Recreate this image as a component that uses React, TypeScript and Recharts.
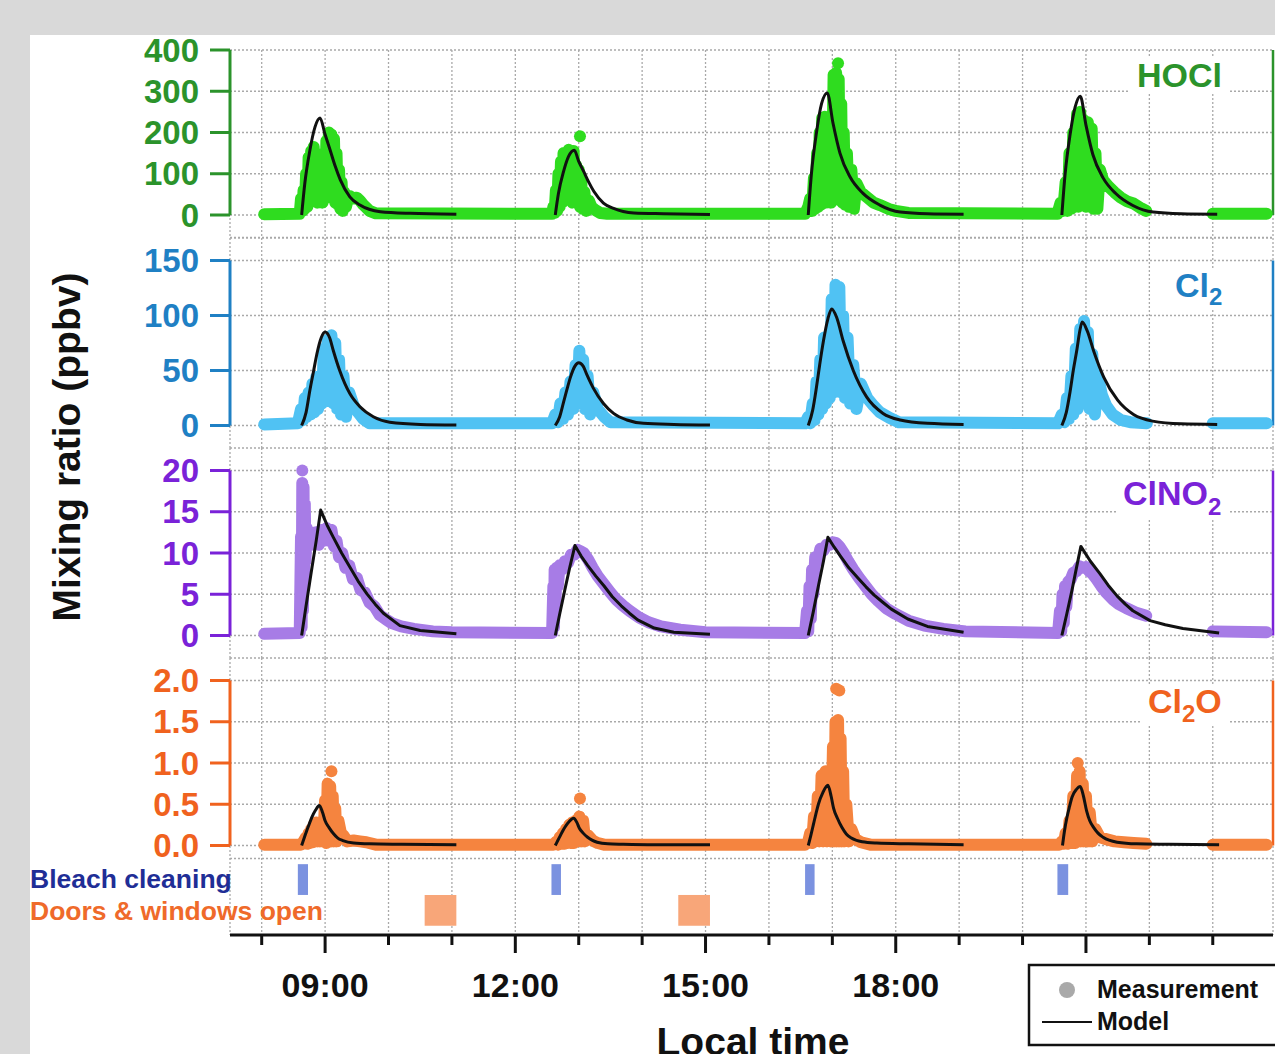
import { ComposedChart, Line, Scatter, XAxis, YAxis, CartesianGrid, ReferenceLine, ReferenceArea } from "recharts";

const FONT = '"Liberation Sans", Arial, Helvetica, sans-serif';
const X_MIN = 7.5;
const X_MAX = 23.95;

const hourTicks = [8, 9, 10, 11, 12, 13, 14, 15, 16, 17, 18, 19, 20, 21, 22, 23];
const majorHours = [9, 12, 15, 18, 21];
const labelHours = [9, 12, 15, 18]; // 21:00 sits under the legend box

// events (local time, hours)
const bleachStart = [8.57, 12.57, 16.57, 20.55];
const bleachEnd = [8.73, 12.72, 16.72, 20.72];
const doorsStart = [10.57, 14.57];
const doorsEnd = [11.07, 15.07];

type Pt = [number, number | null];

// ---- HOCl ----
const hoclMeas: Pt[] = [
    [8.04, 2], [8.6, 3], [8.62, 40], [8.64, 10], [8.66, 60], [8.68, 15], [8.7, 100], [8.72, 20], [8.74, 140], [8.76, 30],
    [8.78, 155], [8.8, 40], [8.82, 165], [8.84, 50], [8.86, 150], [8.88, 30], [8.9, 120], [8.92, 40], [8.94, 95], [8.96, 30],
    [8.98, 130], [9, 40], [9.02, 180], [9.04, 50], [9.06, 200], [9.08, 45], [9.1, 195], [9.12, 40], [9.14, 185], [9.16, 30],
    [9.18, 150], [9.2, 25], [9.22, 110], [9.24, 15], [9.26, 80], [9.28, 10], [9.3, 55], [9.33, 20], [9.36, 40], [9.4, 45],
    [9.45, 40], [9.5, 42], [9.55, 35], [9.6, 25], [9.65, 18], [9.7, 10], [9.8, 4],
    [12.58, 3], [12.6, 20], [12.62, 5], [12.64, 60], [12.66, 10], [12.68, 100], [12.7, 20], [12.72, 130], [12.74, 30], [12.76, 150],
    [12.78, 40], [12.8, 145], [12.82, 50], [12.84, 158], [12.86, 40], [12.88, 140], [12.9, 30], [12.92, 155], [12.94, 40], [12.96, 120],
    [12.98, 30], [13, 110], [13.02, 20], [13.04, 80], [13.06, 15], [13.09, 55], [13.12, 10], [13.16, 35], [13.2, 20], [13.26, 12],
    [13.34, 5], [13.45, 3],
    [16.57, 3], [16.62, 20], [16.65, 40], [16.68, 10], [16.71, 90], [16.73, 15], [16.76, 150], [16.78, 20], [16.8, 200], [16.82, 25],
    [16.84, 235], [16.86, 30], [16.88, 238], [16.9, 30], [16.92, 190], [16.94, 35], [16.96, 150], [16.98, 30], [17, 120], [17.02, 340],
    [17.04, 40], [17.06, 345], [17.08, 40], [17.1, 330], [17.12, 35], [17.14, 270], [17.16, 30], [17.18, 200], [17.2, 25], [17.23, 150],
    [17.26, 20], [17.3, 110], [17.34, 15], [17.38, 77], [17.45, 55], [17.54, 44], [17.65, 30], [17.75, 24], [17.9, 14], [18, 10], [18.2, 5],
    [20.55, 3], [20.6, 30], [20.64, 10], [20.68, 80], [20.71, 10], [20.74, 150], [20.77, 15], [20.8, 200], [20.83, 20], [20.86, 245],
    [20.88, 20], [20.91, 250], [20.94, 25], [20.97, 230], [21, 20], [21.03, 225], [21.06, 20], [21.09, 210], [21.12, 15], [21.15, 150],
    [21.18, 15], [21.22, 110], [21.27, 85], [21.35, 70], [21.45, 55], [21.55, 42], [21.65, 33], [21.75, 28], [21.85, 18], [21.95, 10],
    [22.5, null], [23, 3], [23.85, 3],
];
const hoclModel: Pt[] = [
    [8.63, 0], [8.68, 77], [8.76, 157], [8.84, 213], [8.92, 235], [9, 195], [9.08, 157], [9.16, 118], [9.24, 85], [9.39, 44],
    [9.55, 24], [9.87, 8], [10.34, 4], [11.07, 2], [11.1, null],
    [12.63, 0], [12.68, 52], [12.76, 105], [12.84, 142], [12.93, 157], [13, 130], [13.08, 105], [13.16, 79], [13.24, 57], [13.39, 29],
    [13.55, 16], [13.87, 5], [14.34, 3], [15.07, 1], [15.1, null],
    [16.62, 0], [16.67, 100], [16.75, 200], [16.83, 270], [16.92, 296], [17.01, 223], [17.12, 150], [17.28, 92], [17.48, 53], [17.75, 24],
    [18.07, 7], [18.5, 3], [19.07, 2], [19.1, null],
    [20.62, 0], [20.67, 97], [20.75, 195], [20.83, 262], [20.91, 288], [21, 218], [21.11, 146], [21.27, 90], [21.47, 52], [21.74, 23],
    [22.06, 7], [22.5, 3], [23.07, 2],
];
const hoclOutliers: Pt[] = [[13.02, 191], [17.09, 368]];

// ---- Cl2 ----
const cl2Meas: Pt[] = [
    [8.04, 1], [8.57, 2], [8.62, 15], [8.65, 5], [8.68, 25], [8.71, 8], [8.74, 30], [8.77, 10], [8.8, 38], [8.83, 12],
    [8.86, 44], [8.89, 15], [8.92, 45], [8.95, 20], [8.98, 70], [9.01, 25], [9.04, 78], [9.07, 22], [9.1, 82], [9.13, 20],
    [9.16, 75], [9.19, 15], [9.22, 60], [9.25, 10], [9.29, 45], [9.33, 8], [9.38, 30], [9.45, 18], [9.52, 12], [9.6, 6], [9.7, 2],
    [12.58, 2], [12.63, 10], [12.67, 3], [12.71, 20], [12.75, 6], [12.79, 30], [12.83, 10], [12.87, 40], [12.91, 15], [12.95, 55],
    [12.98, 20], [13.01, 68], [13.04, 20], [13.07, 60], [13.1, 15], [13.14, 45], [13.18, 10], [13.23, 30], [13.3, 15], [13.4, 8], [13.5, 3],
    [16.57, 2], [16.62, 8], [16.65, 2], [16.69, 20], [16.72, 5], [16.75, 40], [16.78, 10], [16.81, 60], [16.84, 15], [16.87, 80],
    [16.9, 20], [16.93, 75], [16.96, 25], [16.99, 115], [17.02, 30], [17.05, 128], [17.08, 35], [17.11, 126], [17.14, 30], [17.17, 100],
    [17.2, 25], [17.24, 80], [17.28, 20], [17.33, 55], [17.38, 15], [17.45, 38], [17.55, 25], [17.65, 18], [17.75, 12], [17.9, 7], [18.05, 3],
    [20.56, 2], [20.62, 10], [20.66, 3], [20.7, 25], [20.73, 6], [20.77, 45], [20.8, 10], [20.84, 70], [20.87, 15], [20.91, 88],
    [20.94, 20], [20.97, 95], [21, 20], [21.03, 85], [21.06, 15], [21.1, 65], [21.14, 10], [21.19, 45], [21.25, 28], [21.32, 18],
    [21.42, 10], [21.55, 5], [21.7, 3], [21.96, 2],
    [22.5, null], [23, 2], [23.85, 2],
];
const cl2Model: Pt[] = [
    [8.63, 0], [8.7, 12], [8.76, 32], [8.82, 50], [8.87, 65], [8.94, 80], [9, 85], [9.07, 80], [9.13, 68], [9.23, 50],
    [9.39, 29], [9.55, 17], [9.76, 8], [10.02, 3], [10.5, 1], [11.07, 0.5], [11.1, null],
    [12.63, 0], [12.7, 8], [12.76, 21], [12.82, 34], [12.87, 44], [12.94, 54], [13, 57], [13.07, 54], [13.13, 46], [13.23, 34],
    [13.39, 20], [13.55, 11], [13.76, 5], [14.02, 2], [14.5, 1], [15.07, 0.5], [15.1, null],
    [16.62, 0], [16.69, 14], [16.75, 35], [16.8, 55], [16.86, 77], [16.93, 97], [16.99, 106], [17.07, 98], [17.17, 77], [17.33, 50],
    [17.54, 26], [17.8, 11], [18.07, 5], [18.5, 2], [19.07, 1], [19.1, null],
    [20.62, 0], [20.69, 12], [20.75, 31], [20.8, 50], [20.86, 70], [20.9, 85], [20.94, 94], [21.02, 86], [21.12, 68], [21.28, 44],
    [21.5, 23], [21.75, 10], [22.05, 4], [22.5, 1.5], [23.07, 1],
];
const cl2Outliers: Pt[] = [];

// ---- ClNO2 ----
const clno2Meas: Pt[] = [
    [8.04, 0.2], [8.6, 0.3], [8.62, 12], [8.63, 1], [8.64, 18.5], [8.65, 3], [8.66, 18], [8.67, 6], [8.68, 16], [8.69, 9],
    [8.71, 13], [8.74, 11], [8.78, 12.5], [8.82, 11], [8.86, 12.5], [8.9, 11], [8.94, 12.8], [8.98, 11.5], [9.02, 13], [9.06, 11.5],
    [9.1, 12.8], [9.14, 10.8], [9.18, 11.5], [9.22, 9.5], [9.27, 10], [9.32, 8.2], [9.38, 8.5], [9.44, 6.8], [9.5, 7], [9.56, 5.5],
    [9.63, 5.2], [9.7, 4], [9.78, 3.5], [9.86, 2.5], [9.95, 2], [10.05, 1.5], [10.2, 1.1], [10.4, 0.8], [10.7, 0.5], [11, 0.4],
    [12.58, 0.3], [12.6, 6], [12.61, 1], [12.62, 8], [12.63, 3], [12.65, 8.2], [12.67, 6], [12.7, 8.5], [12.74, 8], [12.78, 9],
    [12.83, 8.8], [12.88, 9.8], [12.93, 9.8], [12.98, 10.4], [13.03, 10.2], [13.08, 10], [13.15, 9.2], [13.22, 8.2], [13.3, 7.2], [13.4, 6.2],
    [13.5, 5.2], [13.6, 4.3], [13.7, 3.6], [13.8, 3], [13.95, 2.2], [14.1, 1.6], [14.3, 1.1], [14.6, 0.7], [15, 0.4],
    [16.57, 0.3], [16.6, 3], [16.62, 0.5], [16.64, 6], [16.66, 2], [16.68, 8], [16.7, 5], [16.73, 9.5], [16.77, 9], [16.81, 10.5],
    [16.86, 10.3], [16.91, 11], [16.96, 11], [17.01, 11.3], [17.06, 11.2], [17.11, 10.8], [17.18, 10], [17.25, 9], [17.33, 8], [17.42, 7],
    [17.52, 6], [17.62, 5], [17.72, 4.2], [17.85, 3.3], [18, 2.6], [18.2, 1.8], [18.45, 1.2], [18.75, 0.8], [19.1, 0.5],
    [20.56, 0.3], [20.59, 3], [20.61, 0.5], [20.63, 5], [20.65, 1.5], [20.67, 6], [20.69, 3.5], [20.72, 6.5], [20.76, 6.8], [20.8, 7.6],
    [20.85, 7.8], [20.9, 8.4], [20.95, 8.2], [21, 8.3], [21.05, 7.8], [21.1, 7.5], [21.17, 6.8], [21.24, 6], [21.32, 5.2], [21.42, 4.4],
    [21.52, 3.8], [21.64, 3.3], [21.78, 2.8], [21.95, 2.4],
    [22.5, null], [23, 0.5], [23.85, 0.4],
];
const clno2Model: Pt[] = [
    [8.63, 0], [8.7, 3.6], [8.78, 7.6], [8.86, 11.5], [8.93, 15.2], [9.03, 13.4], [9.13, 11.9], [9.26, 10], [9.39, 8.3], [9.52, 6.6],
    [9.66, 5.05], [9.79, 3.8], [9.92, 2.7], [10.18, 1.2], [10.5, 0.6], [11.07, 0.2], [11.1, null],
    [12.63, 0], [12.7, 2.6], [12.78, 5.5], [12.86, 8.3], [12.94, 10.9], [13.04, 9.6], [13.14, 8.5], [13.27, 7.2], [13.4, 6], [13.53, 4.7],
    [13.67, 3.6], [13.8, 2.7], [13.93, 1.9], [14.19, 0.9], [14.5, 0.4], [15.07, 0.15], [15.1, null],
    [16.62, 0], [16.7, 2.9], [16.78, 6], [16.86, 9], [16.93, 11.9], [17.03, 10.7], [17.13, 9.6], [17.26, 8.2], [17.4, 7], [17.53, 5.9],
    [17.66, 4.9], [17.8, 4], [17.93, 3.2], [18.19, 2], [18.5, 1.1], [19.07, 0.4], [19.1, null],
    [20.62, 0], [20.7, 2.7], [20.78, 5.5], [20.85, 8.2], [20.92, 10.8], [21.07, 9], [21.22, 7.5], [21.35, 6.1], [21.49, 4.8], [21.62, 3.8],
    [21.74, 3], [22.01, 1.8], [22.25, 1.3], [22.53, 0.85], [23.1, 0.3],
];
const clno2Outliers: Pt[] = [[8.64, 20]];

// ---- Cl2O ----
const cl2oMeas: Pt[] = [
    [8.04, 0.01], [8.62, 0.01], [8.66, 0.05], [8.7, 0.1], [8.72, 0.02], [8.74, 0.15], [8.76, 0.03], [8.78, 0.2], [8.8, 0.04], [8.82, 0.25],
    [8.84, 0.05], [8.86, 0.28], [8.88, 0.05], [8.9, 0.22], [8.92, 0.05], [8.94, 0.28], [8.97, 0.05], [9, 0.55], [9.02, 0.03], [9.04, 0.75],
    [9.06, 0.05], [9.08, 0.72], [9.1, 0.05], [9.12, 0.6], [9.14, 0.05], [9.16, 0.45], [9.18, 0.05], [9.21, 0.3], [9.25, 0.15], [9.29, 0.12],
    [9.35, 0.05], [9.45, 0.06], [9.55, 0.05], [9.65, 0.04], [9.8, 0.01],
    [12.6, 0.01], [12.65, 0.05], [12.68, 0.01], [12.7, 0.1], [12.72, 0.02], [12.75, 0.15], [12.77, 0.02], [12.8, 0.2], [12.82, 0.03], [12.85, 0.25],
    [12.87, 0.03], [12.9, 0.28], [12.92, 0.03], [12.95, 0.3], [12.98, 0.05], [13.01, 0.35], [13.04, 0.05], [13.07, 0.3], [13.1, 0.05], [13.15, 0.12],
    [13.22, 0.06], [13.3, 0.03], [13.4, 0.01],
    [16.57, 0.01], [16.62, 0.05], [16.65, 0.15], [16.68, 0.03], [16.71, 0.35], [16.74, 0.05], [16.77, 0.6], [16.8, 0.05], [16.83, 0.85], [16.86, 0.05],
    [16.89, 0.9], [16.92, 0.05], [16.95, 0.85], [16.98, 0.05], [17.01, 1.2], [17.03, 0.05], [17.05, 1.5], [17.07, 0.05], [17.09, 1.52], [17.11, 0.05],
    [17.13, 1.3], [17.15, 0.05], [17.17, 0.9], [17.19, 0.05], [17.22, 0.5], [17.26, 0.05], [17.3, 0.2], [17.36, 0.08], [17.45, 0.04], [17.6, 0.01],
    [20.58, 0.01], [20.62, 0.05], [20.65, 0.02], [20.68, 0.15], [20.71, 0.02], [20.74, 0.3], [20.77, 0.03], [20.8, 0.6], [20.83, 0.03], [20.86, 0.85],
    [20.88, 0.05], [20.9, 0.9], [20.92, 0.05], [20.95, 0.75], [20.97, 0.05], [21, 0.6], [21.03, 0.05], [21.06, 0.4], [21.1, 0.05], [21.15, 0.2],
    [21.22, 0.1], [21.3, 0.08], [21.45, 0.05], [21.6, 0.04], [21.75, 0.03], [21.95, 0.02],
    [22.5, null], [23, 0.01], [23.85, 0.01],
];
const cl2oModel: Pt[] = [
    [8.63, 0], [8.67, 0.09], [8.71, 0.18], [8.75, 0.26], [8.79, 0.34], [8.85, 0.43], [8.91, 0.485], [8.96, 0.4], [9, 0.3], [9.06, 0.22],
    [9.13, 0.145], [9.2, 0.09], [9.28, 0.06], [9.45, 0.03], [9.7, 0.02], [10.2, 0.015], [11.07, 0.01], [11.1, null],
    [12.63, 0], [12.67, 0.06], [12.71, 0.12], [12.75, 0.18], [12.79, 0.23], [12.85, 0.29], [12.92, 0.33], [12.97, 0.28], [13.01, 0.21], [13.07, 0.15],
    [13.14, 0.1], [13.21, 0.065], [13.29, 0.04], [13.46, 0.02], [13.7, 0.015], [14.2, 0.01], [15.07, 0.01], [15.1, null],
    [16.62, 0], [16.66, 0.12], [16.7, 0.25], [16.74, 0.38], [16.78, 0.5], [16.85, 0.64], [16.93, 0.73], [16.98, 0.6], [17.02, 0.45], [17.08, 0.33],
    [17.15, 0.22], [17.22, 0.14], [17.3, 0.09], [17.47, 0.045], [17.7, 0.03], [18.2, 0.02], [19.07, 0.01], [19.1, null],
    [20.63, 0], [20.66, 0.17], [20.7, 0.34], [20.74, 0.47], [20.78, 0.585], [20.85, 0.68], [20.91, 0.715], [20.96, 0.6], [21.01, 0.42], [21.06, 0.3],
    [21.12, 0.22], [21.19, 0.15], [21.27, 0.1], [21.49, 0.04], [21.8, 0.02], [22.3, 0.015], [23.1, 0.01],
];
const cl2oOutliers: Pt[] = [[9.1, 0.9], [13.02, 0.57], [17.06, 1.9], [17.11, 1.88], [20.87, 1.0]];

const rows = (pts: Pt[]) => pts.map(([t, v]) => ({ t, v }));

type PanelDef = {
    key: string;
    axisColor: string;
    dotColor: string;
    max: number;
    ticks: number[];
    digits: number;
    yTop: number;   // pixel of max tick
    yZero: number;  // pixel of zero tick
    top: number;    // plot area top
    bottom: number; // plot area bottom
    mTop: number;
    mBottom: number;
    curve: "monotone" | "linear";
    meas: Pt[];
    model: Pt[];
    outliers: Pt[];
};

const panels: PanelDef[] = [
    { key: "hocl", axisColor: "#2b932b", dotColor: "#2fdc1f", max: 400, ticks: [0, 100, 200, 300, 400], digits: 0, yTop: 50, yZero: 215, top: 50, bottom: 237.5, mTop: 26, mBottom: 0, curve: "monotone", meas: hoclMeas, model: hoclModel, outliers: hoclOutliers },
    { key: "cl2", axisColor: "#1f80c4", dotColor: "#50c2f3", max: 150, ticks: [0, 50, 100, 150], digits: 0, yTop: 260, yZero: 425, top: 237.5, bottom: 447.5, mTop: 0, mBottom: 0, curve: "monotone", meas: cl2Meas, model: cl2Model, outliers: cl2Outliers },
    { key: "clno2", axisColor: "#7a22d8", dotColor: "#a77ce6", max: 20, ticks: [0, 5, 10, 15, 20], digits: 0, yTop: 470, yZero: 635, top: 447.5, bottom: 657.5, mTop: 0, mBottom: 0, curve: "linear", meas: clno2Meas, model: clno2Model, outliers: clno2Outliers },
    { key: "cl2o", axisColor: "#f0621e", dotColor: "#f5843f", max: 2, ticks: [0, 0.5, 1, 1.5, 2], digits: 1, yTop: 680, yZero: 845, top: 657.5, bottom: 858, mTop: 0, mBottom: 14, curve: "monotone", meas: cl2oMeas, model: cl2oModel, outliers: cl2oOutliers },
];

function Panel({ p }: { p: PanelDef }) {
    const scale = (p.yZero - p.yTop) / p.max;
    const domain = [-(p.bottom - p.yZero) / scale, p.max + (p.yTop - p.top) / scale];
    return (
        <div style={{ position: "absolute", left: 0, top: p.top - p.mTop }}>
            <ComposedChart
                width={1275}
                height={p.bottom - p.top + p.mTop + p.mBottom}
                margin={{ top: p.mTop, right: 2, bottom: p.mBottom, left: 0 }}
            >
                <CartesianGrid stroke="#a9a9a9" strokeDasharray="2 2" strokeWidth={1.3} />
                <XAxis type="number" dataKey="t" domain={[X_MIN, X_MAX]} ticks={hourTicks} hide allowDataOverflow />
                <YAxis
                    type="number"
                    dataKey="v"
                    domain={domain}
                    ticks={p.ticks}
                    interval={0}
                    width={230}
                    allowDataOverflow
                    axisLine={false}
                    tickSize={20}
                    tickMargin={11}
                    tickLine={{ stroke: p.axisColor, strokeWidth: 3 }}
                    tick={{ fill: p.axisColor, fontSize: 33, fontWeight: 700, fontFamily: FONT }}
                    tickFormatter={(v: number) => v.toFixed(p.digits)}
                />
                <ReferenceLine segment={[{ x: X_MIN, y: 0 }, { x: X_MIN, y: p.max }]} stroke={p.axisColor} strokeWidth={3} ifOverflow="visible" />
                <ReferenceLine segment={[{ x: X_MAX, y: 0 }, { x: X_MAX, y: p.max }]} stroke={p.axisColor} strokeWidth={2.5} ifOverflow="visible" />
                <Line
                    data={rows(p.meas)}
                    dataKey="v"
                    stroke={p.dotColor}
                    strokeWidth={12}
                    strokeLinecap="round"
                    strokeLinejoin="round"
                    dot={false}
                    activeDot={false}
                    isAnimationActive={false}
                />
                <Scatter
                    data={rows(p.outliers)}
                    dataKey="v"
                    isAnimationActive={false}
                    shape={(s: any) => <circle cx={s.cx} cy={s.cy} r={6} fill={p.dotColor} />}
                />
                <Line
                    data={rows(p.model)}
                    dataKey="v"
                    type={p.curve}
                    stroke="#111"
                    strokeWidth={3}
                    strokeLinejoin="round"
                    dot={false}
                    activeDot={false}
                    isAnimationActive={false}
                />
            </ComposedChart>
        </div>
    );
}

function HourTick(props: any) {
    const { x, y, payload } = props;
    const major = majorHours.includes(payload.value);
    const label = `${String(payload.value).padStart(2, "0")}:00`;
    return (
        <g>
            <line x1={x} x2={x} y1={y} y2={y + (major ? 18 : 10)} stroke="#111" strokeWidth={3} />
            {labelHours.includes(payload.value) && (
                <text x={x} y={y + 62} textAnchor="middle" fontSize={34} fontWeight={700} fontFamily={FONT} fill="#111">
                    {label}
                </text>
            )}
        </g>
    );
}

function EventChart() {
    return (
        <div style={{ position: "absolute", left: 0, top: 858 }}>
            <ComposedChart width={1275} height={196} margin={{ top: 0, right: 2, bottom: 0, left: 230 }}>
                <CartesianGrid horizontal={false} stroke="#a9a9a9" strokeDasharray="2 2" strokeWidth={1.3} />
                <XAxis
                    type="number"
                    dataKey="t"
                    domain={[X_MIN, X_MAX]}
                    ticks={hourTicks}
                    interval={0}
                    height={119}
                    allowDataOverflow
                    tickSize={0}
                    tickMargin={0}
                    tickLine={false}
                    axisLine={{ stroke: "#111", strokeWidth: 3 }}
                    tick={<HourTick />}
                />
                <YAxis type="number" domain={[0, 2.5]} hide allowDataOverflow />
                {bleachStart.map((s, i) => (
                    <ReferenceArea key={`b${i}`} x1={s} x2={bleachEnd[i]} y1={1.3} y2={2.3} fill="#7b92e0" fillOpacity={1} stroke="none" />
                ))}
                {doorsStart.map((s, i) => (
                    <ReferenceArea key={`d${i}`} x1={s} x2={doorsEnd[i]} y1={0.3} y2={1.3} fill="#f8a679" fillOpacity={1} stroke="none" />
                ))}
            </ComposedChart>
        </div>
    );
}

function Overlay() {
    const t = { fontFamily: FONT, fontWeight: 700 } as const;
    return (
        <svg width={1275} height={1054} style={{ position: "absolute", left: 0, top: 0, pointerEvents: "none" }}>
            <text {...t} fontSize={39} fill="#111" textAnchor="middle" transform="translate(80,447) rotate(-90)">
                Mixing ratio (ppbv)
            </text>

            <rect x={1130} y={58} width={98} height={35} fill="#fff" />
            <text {...t} x={1137} y={87} fontSize={34} fill="#2b932b">HOCl</text>

            <rect x={1170} y={270} width={58} height={38} fill="#fff" />
            <text {...t} x={1175} y={297} fontSize={34} fill="#1f80c4">
                Cl<tspan fontSize={24} dy={8}>2</tspan>
            </text>

            <rect x={1117} y={478} width={112} height={42} fill="#fff" />
            <text {...t} x={1123} y={505} fontSize={34} fill="#7a22d8">
                ClNO<tspan fontSize={24} dy={10}>2</tspan>
            </text>

            <rect x={1142} y={686} width={86} height={40} fill="#fff" />
            <text {...t} x={1148} y={713} fontSize={34} fill="#f0621e">
                Cl<tspan fontSize={24} dy={9}>2</tspan><tspan dy={-9}>O</tspan>
            </text>

            <text {...t} x={30} y={888} fontSize={26.5} fill="#1f2e96">Bleach cleaning</text>
            <text {...t} x={30} y={920} fontSize={26.5} fill="#ef6a2a">Doors &amp; windows open</text>

            <text {...t} x={753} y={1055} fontSize={39} fill="#111" textAnchor="middle">Local time</text>

            <rect x={1029} y={965} width={260} height={80} fill="#fff" stroke="#111" strokeWidth={2.5} />
            <circle cx={1067} cy={990} r={8} fill="#a9a9a9" />
            <text {...t} x={1097} y={998} fontSize={25} fill="#111">Measurement</text>
            <line x1={1042} x2={1092} y1={1022} y2={1022} stroke="#111" strokeWidth={2} />
            <text {...t} x={1097} y={1030} fontSize={25} fill="#111">Model</text>
        </svg>
    );
}

export default function App() {
    return (
        <div style={{ position: "absolute", left: 0, top: 0, width: 1275, height: 1054, background: "#d9d9d9", overflow: "hidden", fontFamily: FONT }}>
            <div style={{ position: "absolute", left: 30, top: 35, width: 1245, height: 1019, background: "#fff" }} />
            {panels.map((p) => (
                <Panel key={p.key} p={p} />
            ))}
            <EventChart />
            <Overlay />
        </div>
    );
}
